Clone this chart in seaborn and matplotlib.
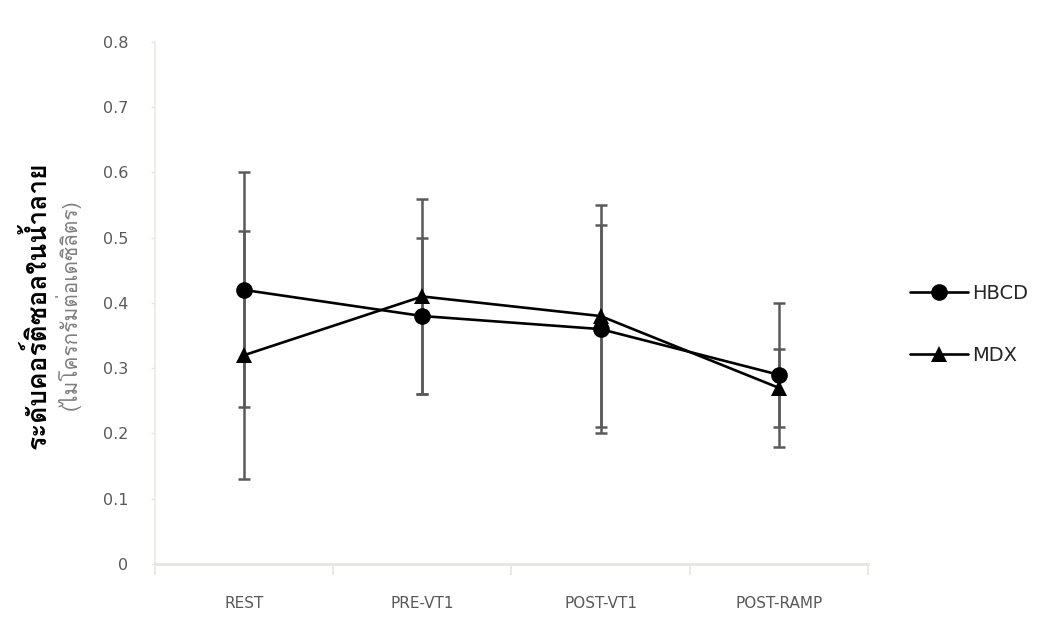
import numpy as np
import pandas as pd
import seaborn as sns
import matplotlib
matplotlib.use("Agg")
import matplotlib.pyplot as plt
from matplotlib import font_manager as fm
from matplotlib.lines import Line2D

# Salivary cortisol (µg/dL) by phase, mean ± SD
phases = ["REST", "PRE-VT1", "POST-VT1", "POST-RAMP"]
hbcd_mean = [0.42, 0.38, 0.36, 0.29]
hbcd_sd = [0.18, 0.12, 0.16, 0.11]
mdx_mean = [0.32, 0.41, 0.38, 0.27]
mdx_sd = [0.19, 0.15, 0.17, 0.06]
groups = ["HBCD", "MDX"]
y_ticks = [0, 0.1, 0.2, 0.3, 0.4, 0.5, 0.6, 0.7, 0.8]

ylabel_main = "ระดับคอร์ติซอลในน้ำลาย"
ylabel_unit = "(ไมโครกรัมต่อเดซิลิตร)"


def find_thai_family():
    try:
        from fontTools.ttLib import TTFont
    except Exception:
        return None
    seen = set()
    for f in fm.fontManager.ttflist:
        if f.fname in seen:
            continue
        seen.add(f.fname)
        try:
            tt = TTFont(f.fname, fontNumber=0, lazy=True)
            cmap = tt.getBestCmap()
        except Exception:
            continue
        if cmap and 0x0E23 in cmap and 0x0E44 in cmap:
            return f.name
    return None


sns.set_theme(style="white")
thai_family = find_thai_family()
base = ["DejaVu Sans"]
plt.rcParams["font.family"] = base
thai_fams = ([thai_family] if thai_family else []) + base

df = pd.DataFrame({
    "phase": phases * 2,
    "value": hbcd_mean + mdx_mean,
    "sd": hbcd_sd + mdx_sd,
    "group": [groups[0]] * len(phases) + [groups[1]] * len(phases),
})

fig = plt.figure(figsize=(10.57, 6.42), dpi=100)
ax = fig.add_axes([0.1466, 0.1215, 0.6745, 0.8131])

err_color = "#5a5a5a"
xpos = np.arange(len(phases))
for g in groups:
    sub = df[df["group"] == g]
    ax.errorbar(xpos, sub["value"], yerr=sub["sd"], fmt="none",
                ecolor=err_color, elinewidth=1.8, capsize=4.5, capthick=1.8,
                zorder=1)

sns.lineplot(data=df, x="phase", y="value", hue="group", style="group",
             markers={"HBCD": "o", "MDX": "^"}, dashes=False,
             palette={"HBCD": "black", "MDX": "black"},
             linewidth=1.9, markersize=12, markeredgewidth=0,
             sort=False, ax=ax, legend=False, zorder=3)

ax.set_xlim(-0.5, len(phases) - 0.5)
ax.set_ylim(0, 0.8)
ax.set_yticks(y_ticks)
ax.set_yticklabels([f"{v:g}" for v in y_ticks])
ax.set_xticks(xpos)
ax.set_xticklabels(phases)
ax.set_xticks(np.arange(len(phases) + 1) - 0.5, minor=True)
ax.tick_params(axis="x", which="major", length=0, pad=23, labelsize=11,
               labelcolor="#595959")
ax.tick_params(axis="x", which="minor", length=8, width=1.2, color="#e6e6e0",
               bottom=True)
ax.tick_params(axis="y", length=3, width=1, color="#e6e6e0", left=True,
               pad=16, labelsize=11.5, labelcolor="#595959")
ax.set_xlabel("")
ax.set_ylabel("")

for side in ["top", "right"]:
    ax.spines[side].set_visible(False)
ax.spines["left"].set_color("#ecebe0")
ax.spines["left"].set_linewidth(1.2)
ax.spines["bottom"].set_color("#e6e6e0")
ax.spines["bottom"].set_linewidth(2)

# Two-line y-axis title
fig.text(0.034, 0.525, ylabel_main, rotation=90, ha="center", va="center",
         fontsize=19, fontweight="bold", color="black", family=thai_fams)
fig.text(0.064, 0.525, ylabel_unit, rotation=90, ha="center", va="center",
         fontsize=15, color="#7f7f7f", family=thai_fams)

handles = [
    Line2D([], [], color="black", marker="o", markersize=12, linewidth=1.9,
           markeredgewidth=0),
    Line2D([], [], color="black", marker="^", markersize=12, linewidth=1.9,
           markeredgewidth=0),
]
leg = fig.legend(handles, groups, loc="center left",
                 bbox_to_anchor=(0.844, 0.495), frameon=False, fontsize=14,
                 handlelength=3.0, handletextpad=0.2, labelspacing=2.2)

fig.savefig("out.png", dpi=100)
